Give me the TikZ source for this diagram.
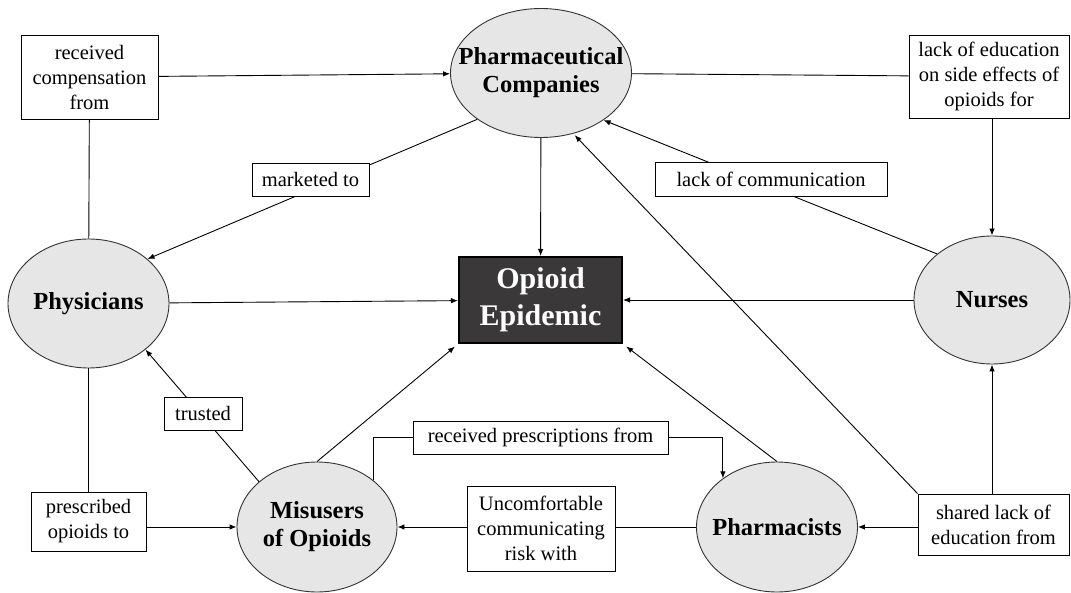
\documentclass[tikz,border=0pt]{standalone}
\usepackage{fontspec}
\setmainfont{Liberation Serif}
\usetikzlibrary{shapes.geometric,arrows.meta,backgrounds}
\definecolor{epidark}{RGB}{58,56,56}
\definecolor{actorgray}{RGB}{230,230,230}

\begin{document}
\begin{tikzpicture}[x=1pt,y=-1pt,line cap=round,
  actor/.style={ellipse,draw=black!80,fill=actorgray,line width=0.9pt,inner sep=0pt},
  actortxt/.style={inner sep=0pt,align=center,font=\fontsize{24.5}{28}\selectfont\bfseries},
  lbl/.style={rectangle,draw,fill=white,line width=0.9pt,inner sep=0pt,align=center,
    font=\fontsize{20.5}{25}\selectfont},
  link/.style={line width=0.9pt},
  arr/.style={-{Latex[length=7pt,width=5.5pt]}}]

\useasboundingbox (0,0) rectangle (1071,593);

% --- Attori (ellissi) ---
\node[actor,minimum width=181,minimum height=129] (pharma) at (541,73) {};
\node[actortxt] (pharmaT) at (pharma) {Pharmaceutical\\Companies};
\node[actor,minimum width=161,minimum height=129] (phys) at (88.5,303.5) {};
\node[actortxt] (physT) at (phys) {Physicians};
\node[actor,minimum width=156,minimum height=128] (nurse) at (992,300) {};
\node[actortxt] (nurseT) at (nurse) {Nurses};
\node[actor,minimum width=160,minimum height=130] (mis) at (317,527) {};
\node[actortxt] (misT) at (mis) {Misusers\\of Opioids};
\node[actor,minimum width=161,minimum height=130] (pharm) at (777,527) {};
\node[actortxt] (pharmT) at (pharm) {Pharmacists};

% --- Centro ---
\node[rectangle,draw,line width=2pt,fill=epidark,text=white,align=center,
  minimum width=163,minimum height=86,inner sep=0pt,
  font=\fontsize{30}{37}\selectfont\bfseries] (epi) at (540.5,300) {Opioid\\Epidemic};

% --- Etichette delle relazioni ---
\node[lbl,minimum width=137,minimum height=84] (comp) at (89.5,77) {received\\compensation\\from};
\node[lbl,minimum width=160,minimum height=83] (edu) at (989,76.5) {lack of education\\on side effects of\\opioids for};
\node[lbl,minimum width=117,minimum height=33] (mkt) at (310.5,179.5) {marketed to};
\node[lbl,minimum width=232,minimum height=34] (comm) at (771,179) {lack of communication};
\node[lbl,minimum width=78,minimum height=33] (trust) at (203,413.5) {trusted};
\node[lbl,minimum width=115,minimum height=59] (presc) at (88.5,521.5) {prescribed\\opioids to};
\node[lbl,minimum width=255,minimum height=33] (recv) at (540.5,437.5) {received prescriptions from};
\node[lbl,minimum width=148,minimum height=85] (unc) at (541,528.5) {Uncomfortable\\communicating\\risk with};
\node[lbl,minimum width=151,minimum height=61] (shared) at (993.5,524.5) {shared lack of\\education from};

% --- Collegamenti ---
\begin{scope}[on background layer]
\draw[link,arr] (comp) -- (pharma);
\draw[link] (pharma) -- (edu);
\draw[link,arr] (edu.south -| nurse) -- (nurse);
\draw[link] (comp) -- (phys);
\draw[link,arr] (pharma.216) -- (phys.37);
\draw[link,arr] (nurse.140) -- (pharma.323);
\draw[link,arr] (pharma) -- (epi);
\draw[link,arr] (phys) -- (epi);
\draw[link,arr] (nurse) -- (epi);
\draw[link,arr,shorten >=4pt] (mis.north) -- (epi.south west);
\draw[link,arr,shorten >=4pt] (pharm.north) -- (epi.south east);
\draw[link,arr] (mis.142) -- (phys.321);
\draw[link] (phys) -- (presc);
\draw[link,arr] (presc.east |- mis) -- (mis);
\draw[link,arr] (mis.40) |- (recv) -| (pharm.138);
\draw[link,arr] (pharm) -- (mis);
\draw[link,arr] (shared.west |- pharm) -- (pharm);
\draw[link,arr] (shared.north -| nurse) -- (nurse);
\draw[link,arr,shorten >=2pt] (shared.north west) -- (pharma.298);
\end{scope}

\end{tikzpicture}
\end{document}
